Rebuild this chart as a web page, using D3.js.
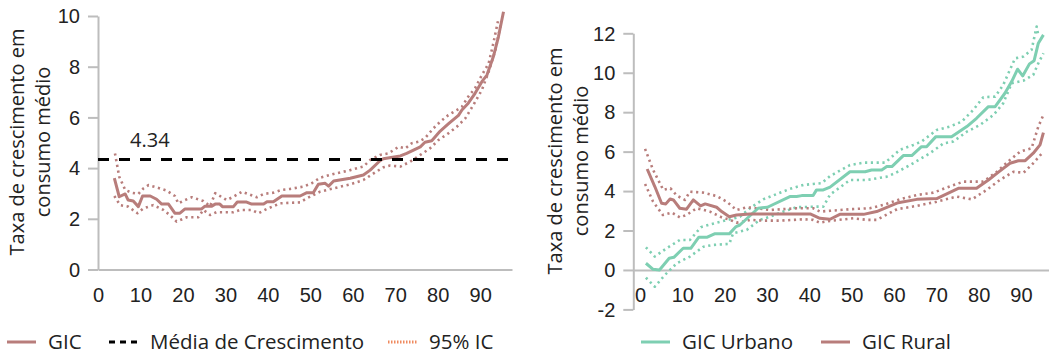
<!DOCTYPE html>
<html>
<head>
<meta charset="utf-8">
<script src="https://cdn.jsdelivr.net/npm/d3@7"></script>
<style>
  body { margin: 0; background: #fff; }
  svg { display: block; font-family: "Open Sans", sans-serif; }
  .tick text { fill: #222; }
</style>
</head>
<body>
<div id="chart"></div>
<script>
// ---- data (percentile, growth rate) ----
var gicTotal = [[3.85,3.60],[5.0,2.87],[6.4,2.98],[7.1,2.74],[8.3,2.70],[9.5,2.48],[10.5,2.90],[12.3,2.90],[13.8,2.77],[15.0,2.58],[16.6,2.58],[18.1,2.22],[19.3,2.22],[20.5,2.39],[24.4,2.39],[25.2,2.50],[26.8,2.50],[27.6,2.58],[28.7,2.58],[29.3,2.48],[31.9,2.48],[32.8,2.66],[35.0,2.66],[36.2,2.58],[39.0,2.58],[39.8,2.67],[41.3,2.67],[43.3,2.90],[47.6,2.90],[49.2,3.03],[50.7,3.03],[51.9,3.36],[53.5,3.40],[54.3,3.29],[55.5,3.49],[59.4,3.60],[62.5,3.73],[64.1,3.92],[66.4,4.29],[67.2,4.37],[71.2,4.48],[72.7,4.58],[74.3,4.71],[75.9,4.84],[77.0,5.02],[78.6,5.08],[80.6,5.46],[82.5,5.74],[84.9,6.08],[85.7,6.29],[87.2,6.56],[88.8,6.95],[90.4,7.41],[91.6,7.67],[93.1,8.39],[94.3,9.18],[95.5,10.17]];
var gicTotalHi = [[4.0,4.58],[5.0,3.66],[6.4,3.14],[7.9,3.03],[9.5,2.98],[10.7,3.20],[11.9,3.33],[13.8,3.24],[16.2,3.11],[18.1,2.90],[18.9,2.61],[20.5,2.74],[22.1,2.85],[24.8,2.70],[26.4,2.50],[27.6,3.01],[30.3,2.74],[31.9,2.87],[33.9,3.07],[35.4,2.98],[37.4,2.85],[39.0,2.98],[41.3,3.03],[43.3,3.14],[45.3,3.18],[48.4,3.27],[50.3,3.40],[52.3,3.62],[55.5,3.77],[59.4,3.92],[62.5,4.06],[64.1,4.32],[66.4,4.52],[68.4,4.58],[70.8,4.84],[72.4,4.78],[73.9,4.98],[75.5,5.04],[77.0,5.18],[79.0,5.57],[80.6,5.83],[82.5,6.09],[84.5,6.29],[85.7,6.42],[87.2,6.82],[88.8,7.15],[90.4,7.67],[92.0,8.13],[93.1,8.92],[94.3,9.88]];
var gicTotalLo = [[3.85,2.90],[5.2,2.54],[7.1,2.48],[9.3,2.22],[10.7,2.41],[13.0,2.54],[15.4,2.35],[16.9,2.15],[18.5,1.89],[20.9,2.06],[23.6,2.06],[24.8,2.35],[26.4,2.15],[27.9,2.26],[31.9,2.26],[33.5,2.35],[36.2,2.35],[37.8,2.22],[39.8,2.39],[42.9,2.61],[47.6,2.65],[49.2,2.81],[52.3,3.07],[55.5,3.20],[59.4,3.36],[62.5,3.53],[64.9,3.79],[67.2,4.03],[68.8,4.10],[71.2,4.06],[73.5,4.25],[75.9,4.52],[78.2,4.78],[80.2,5.11],[82.5,5.37],[84.5,5.63],[86.5,5.96],[88.4,6.49],[90.4,7.08],[92.0,7.80],[93.6,8.66],[94.8,9.64]];
var meanGrowth = 4.34;

var gicUrban = [[1.4,0.34],[3.1,0.03],[4.6,0.0],[6.9,0.59],[8.0,0.64],[10.2,1.10],[12.0,1.10],[13.9,1.66],[15.9,1.66],[17.6,1.83],[21.1,1.83],[22.7,2.20],[23.6,2.28],[27.9,3.13],[30.1,3.18],[35.4,3.72],[37.0,3.72],[38.2,3.77],[40.9,3.77],[41.7,4.06],[43.3,4.06],[44.9,4.20],[49.6,4.98],[53.2,4.98],[54.7,5.07],[57.1,5.07],[58.3,5.24],[59.5,5.24],[62.2,5.80],[64.2,5.80],[66.5,6.25],[67.7,6.25],[69.9,6.76],[73.6,6.76],[77.2,7.27],[79.5,7.69],[82.3,8.28],[83.9,8.28],[86.2,8.96],[87.8,9.55],[89.2,10.18],[90.4,9.84],[92.0,10.45],[93.1,10.61],[94.1,11.50],[95.3,11.92]];
var gicUrbanHi = [[1.4,1.15],[3.5,0.68],[6.3,1.10],[9.4,1.52],[11.8,1.52],[14.4,2.17],[16.9,2.33],[21.3,2.57],[23.6,2.70],[26.0,3.13],[29.1,3.58],[32.3,3.85],[35.4,4.11],[38.6,4.31],[40.9,4.36],[42.9,4.40],[44.9,4.76],[49.6,5.32],[52.8,5.44],[57.9,5.44],[61.4,6.09],[64.6,6.34],[66.5,6.51],[70.1,7.10],[73.2,7.27],[76.0,7.52],[78.7,8.11],[81.1,8.76],[83.9,8.79],[85.8,9.38],[88.6,10.73],[90.6,10.82],[92.5,11.16],[93.7,12.34],[94.0,12.0]];
var gicUrbanLo = [[1.4,-0.39],[3.5,-0.85],[5.9,-0.25],[8.7,0.34],[11.8,0.68],[15.0,1.18],[17.3,1.27],[21.1,1.32],[22.0,1.86],[25.2,2.03],[28.3,2.54],[30.7,2.70],[33.9,2.96],[37.0,3.18],[41.7,3.21],[43.3,3.21],[44.9,3.82],[49.6,4.56],[53.6,4.56],[58.3,4.73],[60.2,4.90],[63.8,5.32],[68.5,5.92],[71.7,6.42],[74.0,6.51],[77.2,7.01],[80.3,7.35],[83.5,7.86],[85.8,8.45],[87.8,9.47],[90.6,9.60],[92.9,9.89],[94.1,10.48],[95.3,10.99]];

var gicRural = [[1.7,5.12],[3.5,4.23],[5.1,3.38],[6.1,3.35],[7.1,3.60],[7.9,3.55],[9.4,3.13],[11.0,3.08],[12.6,3.55],[14.3,3.25],[15.4,3.35],[18.1,3.18],[19.3,2.96],[21.1,2.70],[22.8,2.79],[26.0,2.84],[40.2,2.84],[42.5,2.62],[44.9,2.57],[47.2,2.82],[52.8,2.82],[55.9,2.96],[61.0,3.41],[65.4,3.58],[70.1,3.62],[75.2,4.14],[79.5,4.14],[82.3,4.56],[84.6,4.95],[87.4,5.41],[89.4,5.54],[91.0,5.54],[92.9,5.92],[94.5,6.34],[95.3,6.96]];
var gicRuralHi = [[1.2,6.14],[3.1,5.07],[5.5,4.06],[7.2,4.14],[8.7,3.77],[10.6,3.55],[11.8,3.97],[15.0,3.92],[18.1,3.75],[20.5,3.46],[22.8,3.04],[25.2,3.18],[27.6,3.13],[30.7,3.04],[37.0,3.13],[40.9,3.13],[42.5,2.96],[44.9,3.00],[49.6,3.08],[54.3,3.13],[57.5,3.30],[61.4,3.58],[65.4,3.80],[69.3,3.92],[72.4,4.17],[76.4,4.48],[81.1,4.48],[84.3,4.98],[87.4,5.58],[89.8,6.00],[92.5,6.17],[94.1,7.27],[95.3,7.86]];
var gicRuralLo = [[1.2,4.36],[3.1,3.46],[5.4,2.79],[7.5,2.91],[9.4,2.67],[11.0,2.79],[13.4,3.13],[16.5,2.96],[19.3,2.67],[21.3,2.54],[22.8,2.40],[24.4,2.45],[26.0,2.54],[29.1,2.50],[33.1,2.50],[38.6,2.57],[40.9,2.54],[42.5,2.40],[44.9,2.49],[50.4,2.62],[53.6,2.54],[55.9,2.54],[60.7,3.08],[65.4,3.25],[70.1,3.46],[74.8,3.72],[78.4,3.58],[81.9,4.06],[85.0,4.56],[88.2,4.98],[90.6,4.93],[92.9,5.41],[95.3,6.00]];

var xTicks = [0, 10, 20, 30, 40, 50, 60, 70, 80, 90];
var yTicksLeft = [0, 2, 4, 6, 8, 10];
var yTicksRight = [-2, 0, 2, 4, 6, 8, 10, 12];
var yTitle = ["Taxa de crescimento em", "consumo médio"];
var legendLeft = ["GIC", "Média de Crescimento", "95% IC"];
var legendRight = ["GIC Urbano", "GIC Rural"];

// ---- styles ----
var RURAL = "#b87d7b", URBAN = "#7ecfb2", AXIS = "#bdbdbd", CI_KEY = "#ef8a5f";
var FONT = 20;
var plainNum = function(d) { return String(d); };   // keeps "-2" with a hyphen like the original

var svg = d3.select("#chart").append("svg")
    .attr("width", 1049)
    .attr("height", 355);

var drawPanel = function(opt) {
    var g = svg.append("g");

    var x = d3.scaleLinear().domain(opt.xDomain).range(opt.xRange);
    var y = d3.scaleLinear().domain(opt.yDomain).range(opt.yRange);

    // y axis with outward ticks
    var yAxis = d3.axisLeft(y).tickValues(opt.yTicks).tickFormat(plainNum)
        .tickSize(10).tickSizeOuter(0).tickPadding(8);
    var ya = g.append("g")
        .attr("transform", "translate(" + opt.xRange[0] + ",0)")
        .call(yAxis);
    ya.selectAll("line, path").attr("stroke", AXIS).attr("stroke-width", 2);
    ya.selectAll("text").attr("font-size", FONT).attr("dy", "0.34em");

    // x axis along y = 0, labels only
    var xAxis = d3.axisBottom(x).tickValues(xTicks).tickFormat(plainNum)
        .tickSize(0).tickSizeOuter(0).tickPadding(0);
    var xa = g.append("g")
        .attr("transform", "translate(0," + y(0) + ")")
        .call(xAxis);
    xa.select("path").attr("stroke", AXIS).attr("stroke-width", 2);
    xa.selectAll("text").attr("font-size", FONT).attr("y", opt.xLabelDy).attr("dy", 0);

    // two-line rotated title
    yTitle.forEach(function(t, i) {
        g.append("text")
            .attr("transform", "translate(" + (opt.titleX + i * 26) + "," + opt.titleY + ") rotate(-90)")
            .attr("text-anchor", "middle")
            .attr("dy", "0.35em")
            .attr("font-size", FONT)
            .attr("fill", "#222")
            .text(t);
    });

    var line = d3.line()
        .x(function(d) { return x(d[0]); })
        .y(function(d) { return y(d[1]); });

    opt.series.forEach(function(s) {
        g.append("path")
            .datum(s.data)
            .attr("d", line)
            .attr("fill", "none")
            .attr("stroke", s.color)
            .attr("stroke-width", s.dotted ? 2.6 : 3)
            .attr("stroke-dasharray", s.dotted ? "2.2,3.6" : null)
            .attr("stroke-linejoin", "round");
    });

    return {g: g, x: x, y: y};
};

// left panel
var left = drawPanel({
    xDomain: [0, 97.5], xRange: [98, 512],
    yDomain: [0, 10], yRange: [269.5, 16],
    yTicks: yTicksLeft, xLabelDy: 32,
    titleX: 17, titleY: 142,
    series: [
        {data: gicTotalHi, color: RURAL, dotted: true},
        {data: gicTotalLo, color: RURAL, dotted: true},
        {data: gicTotal, color: RURAL}
    ]
});

// mean line + label
left.g.append("line")
    .attr("x1", left.x(0)).attr("x2", left.x(97.5))
    .attr("y1", left.y(meanGrowth)).attr("y2", left.y(meanGrowth))
    .attr("stroke", "#000").attr("stroke-width", 3)
    .attr("stroke-dasharray", "11,10");
left.g.append("text")
    .attr("x", 130).attr("y", left.y(meanGrowth) - 12)
    .attr("font-size", FONT).attr("fill", "#222")
    .text(meanGrowth.toFixed(2));

// right panel
drawPanel({
    xDomain: [-1.58, 96.5], xRange: [633.3, 1048.5],
    yDomain: [-2, 12], yRange: [309.4, 33.3],
    yTicks: yTicksRight, xLabelDy: 32,
    titleX: 555, titleY: 161,
    series: [
        {data: gicUrbanHi, color: URBAN, dotted: true},
        {data: gicUrbanLo, color: URBAN, dotted: true},
        {data: gicRuralHi, color: RURAL, dotted: true},
        {data: gicRuralLo, color: RURAL, dotted: true},
        {data: gicUrban, color: URBAN},
        {data: gicRural, color: RURAL}
    ]
});

// legends
var legendStyles = {
    "GIC": {color: RURAL, dash: null},
    "Média de Crescimento": {color: "#000", dash: "6,5"},
    "95% IC": {color: CI_KEY, dash: "1.5,1.5"},
    "GIC Urbano": {color: URBAN, dash: null},
    "GIC Rural": {color: RURAL, dash: null}
};
var legendX = {"GIC": 7, "Média de Crescimento": 109, "95% IC": 388, "GIC Urbano": 641, "GIC Rural": 821};

var leg = svg.append("g").attr("class", "legend");
legendLeft.concat(legendRight).forEach(function(name) {
    var st = legendStyles[name], x0 = legendX[name];
    var item = leg.append("g").attr("transform", "translate(" + x0 + ",342)");
    item.append("line")
        .attr("x1", 0).attr("x2", 29)
        .attr("stroke", st.color).attr("stroke-width", 3)
        .attr("stroke-dasharray", st.dash);
    item.append("text")
        .attr("x", 41).attr("dy", "0.36em")
        .attr("font-size", 20.5).attr("fill", "#222")
        .text(name);
});
</script>
</body>
</html>
